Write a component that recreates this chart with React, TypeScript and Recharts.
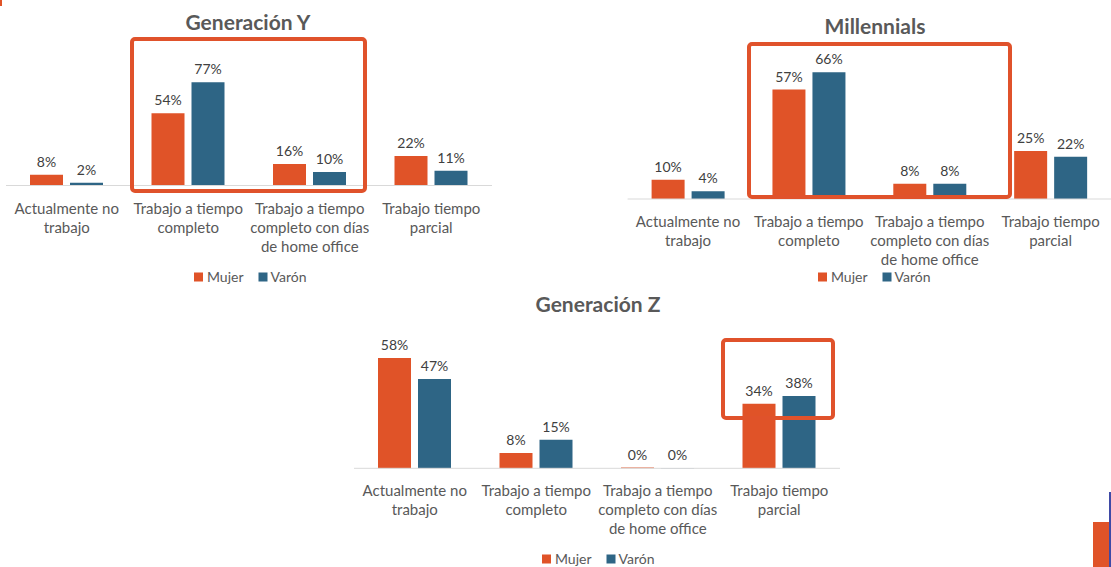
import { BarChart, Bar, XAxis, YAxis, LabelList } from 'recharts';

const categories = [
  'Actualmente no\ntrabajo',
  'Trabajo a tiempo\ncompleto',
  'Trabajo a tiempo\ncompleto con días\nde home office',
  'Trabajo tiempo\nparcial',
];

const genYMujer = [8, 54, 16, 22];
const genYVaron = [2, 77, 10, 11];
const millMujer = [10, 57, 8, 25];
const millVaron = [4, 66, 8, 22];
const genZMujer = [58, 8, 0.4, 34];
const genZVaron = [47, 15, 0.1, 38];

const ORANGE = '#E05328';
const BLUE = '#2E6585';
const FONT = 'Lato, sans-serif';
const AXIS_H = 70;

const buildRows = (mujer: number[], varon: number[]) =>
  categories.map((name, i) => ({ name, mujer: mujer[i], varon: varon[i] }));

const pct = (v: any) => `${Math.round(Number(v))}%`;

const Tick = ({ x, y, payload }: any) => {
  const lines = String(payload.value).split('\n');
  return (
    <text x={x} y={y} textAnchor='middle' fill='#595959' fontSize={15} fontFamily={FONT}>
      {lines.map((l, i) => (
        <tspan key={i} x={x} y={y + 28 + i * 19}>
          {l}
        </tspan>
      ))}
    </text>
  );
};

type PanelProps = {
  mujer: number[];
  varon: number[];
  box: { left: number; top: number; width: number; height: number };
  plotLeft: number;
  plotWidth: number;
  baseline: number;
  scale: number;
};

const Panel = ({ mujer, varon, box, plotLeft, plotWidth, baseline, scale }: PanelProps) => {
  const left = plotLeft - box.left;
  const right = box.width - left - plotWidth;
  const top = baseline - 100 * scale - box.top;
  const bottom = box.height - (baseline - box.top) - AXIS_H;
  return (
    <div style={{ position: 'absolute', left: box.left, top: box.top }}>
      <BarChart
        width={box.width}
        height={box.height}
        data={buildRows(mujer, varon)}
        margin={{ top, right, bottom, left }}
        barSize={33}
        barGap={7}
      >
        <XAxis
          dataKey='name'
          height={AXIS_H}
          tickLine={false}
          tickSize={0}
          tickMargin={0}
          axisLine={{ stroke: '#D9D9D9' }}
          tick={<Tick />}
          interval={0}
        />
        <YAxis hide domain={[0, 100]} />
        <Bar dataKey='mujer' fill={ORANGE} isAnimationActive={false}>
          <LabelList dataKey='mujer' position='top' offset={8} formatter={pct} fill='#404040' fontSize={14} fontFamily={FONT} />
        </Bar>
        <Bar dataKey='varon' fill={BLUE} isAnimationActive={false}>
          <LabelList dataKey='varon' position='top' offset={8} formatter={pct} fill='#404040' fontSize={14} fontFamily={FONT} />
        </Bar>
      </BarChart>
    </div>
  );
};

const Legend = ({ x, y }: { x: number; y: number }) => (
  <g fontFamily={FONT} fontSize={14} fill='#595959'>
    <rect x={x} y={y - 4.5} width={9} height={9} fill={ORANGE} />
    <text x={x + 13} y={y + 5}>Mujer</text>
    <rect x={x + 64.5} y={y - 4.5} width={9} height={9} fill={BLUE} />
    <text x={x + 76.5} y={y + 5}>Varón</text>
  </g>
);

const Title = ({ x, y, text }: { x: number; y: number; text: string }) => (
  <text x={x} y={y} textAnchor='middle' fontFamily={FONT} fontWeight={700} fontSize={21} fill='#595959'>
    {text}
  </text>
);

const App = () => {
  return (
    <div style={{ position: 'absolute', left: 0, top: 0, width: 1111, height: 567, background: '#fff', overflow: 'hidden' }}>
      <Panel
        mujer={genYMujer}
        varon={genYVaron}
        box={{ left: 0, top: 0, width: 500, height: 300 }}
        plotLeft={6}
        plotWidth={486}
        baseline={185.5}
        scale={1.34}
      />
      <Panel
        mujer={millMujer}
        varon={millVaron}
        box={{ left: 600, top: 0, width: 511, height: 300 }}
        plotLeft={627.6}
        plotWidth={483.4}
        baseline={199}
        scale={1.92}
      />
      <Panel
        mujer={genZMujer}
        varon={genZVaron}
        box={{ left: 340, top: 270, width: 520, height: 297 }}
        plotLeft={354}
        plotWidth={486}
        baseline={468.3}
        scale={1.9}
      />
      <svg width={1111} height={567} style={{ position: 'absolute', left: 0, top: 0, pointerEvents: 'none' }}>
        <Title x={248} y={30} text='Generación Y' />
        <Title x={875} y={34} text='Millennials' />
        <Title x={598} y={312} text='Generación Z' />
        <Legend x={194} y={277} />
        <Legend x={818} y={277} />
        <Legend x={542} y={559} />
        {/* highlight boxes */}
        <rect x={132} y={39} width={233} height={152} rx={3} fill='none' stroke='#E0522B' strokeWidth={4} />
        <rect x={749} y={44} width={261} height={153} rx={3} fill='none' stroke='#E0522B' strokeWidth={4} />
        <rect x={723} y={340} width={110} height={78} rx={3} fill='none' stroke='#E0522B' strokeWidth={4} />
        {/* slide decorations */}
        <rect x={0} y={0} width={2} height={6} fill={ORANGE} />
        <rect x={1093} y={522} width={16} height={45} fill={ORANGE} />
        <rect x={1109} y={492} width={2} height={75} fill='#3F4AA6' />
      </svg>
    </div>
  );
};

export default App;
